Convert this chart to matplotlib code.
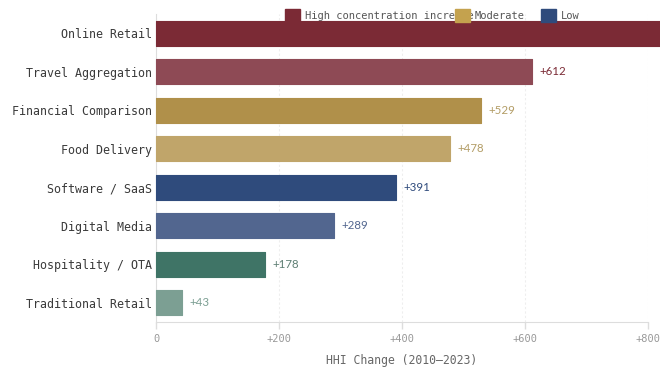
import matplotlib
matplotlib.use("Agg")
import matplotlib.pyplot as plt
from matplotlib.patches import Rectangle

categories = ["Online Retail", "Travel Aggregation", "Financial Comparison", "Food Delivery",
              "Software / SaaS", "Digital Media", "Hospitality / OTA", "Traditional Retail"]
values = [847, 612, 529, 478, 391, 289, 178, 43]
bar_colors = ["#7B2A35", "#8E4A55", "#B0904A", "#C0A56A", "#2F4B7C", "#52668F", "#3F7466", "#7C9F93"]
label_colors = ["#7B2A35", "#7B2A35", "#B39D66", "#B39D66", "#2F4B7C", "#52668F", "#5E7F74", "#7C9F93"]
xticks = [0, 200, 400, 600, 800]
xtick_labels = ["0", "+200", "+400", "+600", "+800"]
legend_labels = ["High concentration increase", "Moderate", "Low"]
legend_colors = ["#7B2A35", "#C4A24E", "#2F4B7C"]

mono = ["DejaVu Sans Mono"]

fig = plt.figure(figsize=(6.6, 3.67), dpi=100)
ax = fig.add_axes([156/660, 45/367, 492/660, 308/367])

y = list(range(len(categories)))
bars = ax.barh(y, values, height=0.65, color=bar_colors, edgecolor=bar_colors,
               linewidth=0.8, joinstyle="round", clip_on=False, zorder=3)
for yi, v, c in zip(y, values, label_colors):
    if v <= 800:
        ax.text(v + 12, yi, f"+{v}", va="center", ha="left", fontsize=8.3,
                color=c, family=["Lato", "DejaVu Sans"])

ax.set_xlim(0, 800)
ax.set_ylim(len(categories) - 0.5, -0.5)
ax.set_yticks(y)
ax.set_yticklabels(categories, family=mono, fontsize=8.4, color="#3a3a3a")
ax.tick_params(axis="y", length=0, pad=3)
ax.set_xticks(xticks)
ax.set_xticklabels(xtick_labels, family=mono, fontsize=7.5, color="#999999")
ax.tick_params(axis="x", length=5, color="#dddddd", width=1, pad=4)
ax.set_xlabel("HHI Change (2010\u20132023)", family=mono, fontsize=8.3, color="#666666", labelpad=7)

for s in ["top", "right"]:
    ax.spines[s].set_visible(False)
ax.spines["left"].set_color("#dddddd")
ax.spines["bottom"].set_color("#dddddd")
ax.grid(axis="x", linestyle=(0, (2, 2)), color="#eeeeee", linewidth=0.8, zorder=0)
ax.set_axisbelow(True)

# legend (manually placed, as in the reference)
leg_x = [285, 455, 541]
for lx, lab, col in zip(leg_x, legend_labels, legend_colors):
    fig.text((lx + 20)/660, 1 - 16/367, lab, family=mono, fontsize=7.5,
             color="#555555", va="center", ha="left")
for lx, lab, col in zip(leg_x, legend_labels, legend_colors):
    fig.patches.append(Rectangle((lx/660, 1 - 22/367), 15/660, 13/367,
                                 transform=fig.transFigure, color=col, zorder=5))

fig.savefig("out.png", dpi=100)
